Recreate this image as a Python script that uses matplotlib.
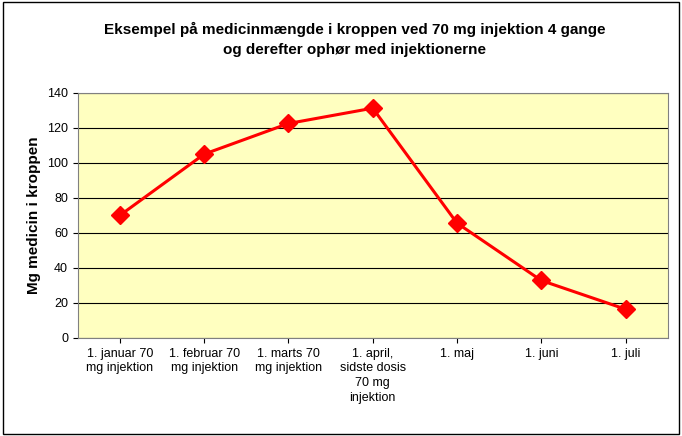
import matplotlib.pyplot as plt
from matplotlib.patches import Rectangle

plt.rcParams['font.family'] = ['Liberation Sans', 'DejaVu Sans']

labels = ['1. januar 70\nmg injektion', '1. februar 70\nmg injektion', '1. marts 70\nmg injektion',
          '1. april,\nsidste dosis\n70 mg\ninjektion', '1. maj', '1. juni', '1. juli']
values = [70, 105, 122.5, 131.25, 65.6, 32.8, 16.4]

fig = plt.figure(figsize=(6.82, 4.36), dpi=100)
fig.patches.append(Rectangle((0.004, 0.005), 0.992, 0.99, transform=fig.transFigure,
                             fill=False, edgecolor='black', lw=1))
ax = fig.add_axes([0.114, 0.225, 0.865, 0.562])
ax.set_facecolor('#FFFFC0')
x = range(len(values))
ax.plot(x, values, color='#FF0000', lw=2.2, marker='D', ms=9, zorder=3)
ax.set_xlim(-0.5, len(values) - 0.5)
ax.set_ylim(0, 140)
ax.set_yticks(range(0, 141, 20))
ax.yaxis.grid(True, color='black', lw=0.8)
ax.set_axisbelow(True)
ax.set_xticks(list(x))
ax.set_xticklabels(labels, fontsize=9, linespacing=1.3)
ax.tick_params(axis='y', labelsize=9)
for s in ax.spines.values():
    s.set_color('#808080')
ax.set_ylabel('Mg medicin i kroppen', fontsize=11, fontweight='bold')
fig.text(0.52, 0.91, 'Eksempel på medicinmængde i kroppen ved 70 mg injektion 4 gange\nog derefter ophør med injektionerne',
         ha='center', va='center', fontsize=11, fontweight='bold', linespacing=1.5)
fig.savefig('out.png', dpi=100)
